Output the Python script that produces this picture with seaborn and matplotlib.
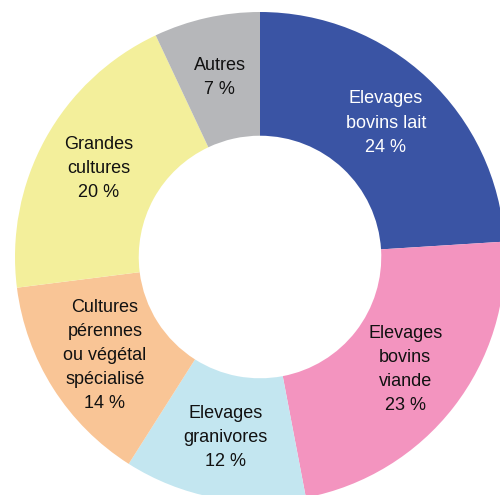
import matplotlib
matplotlib.use("Agg")
import numpy as np
import matplotlib.pyplot as plt
import seaborn as sns

# Répartition par orientation (%)
labels = [
    "Elevages\nbovins lait",
    "Elevages\nbovins\nviande",
    "Elevages\ngranivores",
    "Cultures\npérennes\nou végétal\nspécialisé",
    "Grandes\ncultures",
    "Autres",
]
shares = [24, 23, 12, 14, 20, 7]
colors = ["#3A54A4", "#F394BF", "#C3E6F0", "#F9C596", "#F3EF9B", "#B6B7BA"]
text_colors = ["white", "#111111", "#111111", "#111111", "#111111", "#111111"]

sns.set_theme(style="white")
plt.rcParams["font.family"] = ["Liberation Sans", "DejaVu Sans"]

fig = plt.figure(figsize=(5.0, 4.95), dpi=100)
ax = fig.add_axes([0, 0, 1, 1])

wedges, _ = ax.pie(
    shares,
    colors=sns.color_palette(colors),
    startangle=90,
    counterclock=False,
    radius=1.0,
    wedgeprops=dict(width=0.505, edgecolor="none", linewidth=0),
)

# labels placed in the middle of the ring
for w, lab, v, tc in zip(wedges, labels, shares, text_colors):
    ang = np.deg2rad((w.theta1 + w.theta2) / 2)
    r = 0.75
    ax.text(r * np.cos(ang), r * np.sin(ang), f"{lab}\n{v} %",
            ha="center", va="center", fontsize=13, color=tc,
            linespacing=1.55)

# the donut is cropped on the right and bottom, as in the original
scale = 245.0
ax.set_xlim(-260 / scale, 240 / scale)
ax.set_ylim(-(495 - 257) / scale, 257 / scale)
ax.set_aspect("equal")
ax.axis("off")

fig.savefig("out.png", dpi=100, facecolor="white")
